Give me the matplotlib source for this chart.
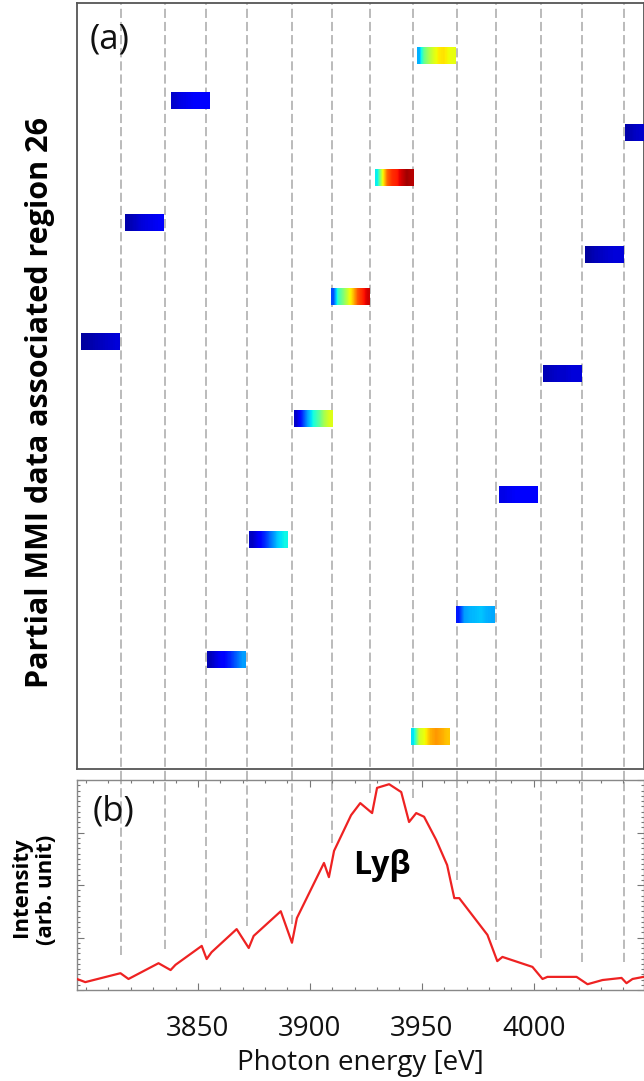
import numpy as np
import matplotlib
matplotlib.use("Agg")
import matplotlib.pyplot as plt
from matplotlib.ticker import MultipleLocator, NullFormatter, FixedLocator

plt.rcParams['font.family'] = ['Open Sans', 'DejaVu Sans']

# ---------------- data ----------------
# Panel (b): spectrum
energy = [3796, 3799.7, 3815.4, 3819.0, 3832.4, 3837.8, 3840.0, 3851.7, 3853.9, 3856.1,
          3867.3, 3872.7, 3874.9, 3887.0, 3892.0, 3894.2, 3906.3, 3908.5, 3910.8, 3918.4,
          3922.5, 3927.8, 3930.0, 3935.4, 3940.8, 3944.3, 3947.5, 3951.0, 3956.4, 3961.3,
          3964.5, 3966.7, 3979.3, 3983.7, 3986.0, 3999.4, 4003.9, 4006.1, 4019.1, 4024.0,
          4030.7, 4039.2, 4041.4, 4044.1, 4049]
intensity = [0.21, 0.15, 0.32, 0.21, 0.51, 0.38, 0.48, 0.84, 0.59, 0.72,
             1.16, 0.80, 1.03, 1.50, 0.90, 1.37, 2.42, 2.15, 2.65, 3.33,
             3.56, 3.37, 3.85, 3.92, 3.77, 3.20, 3.37, 3.30, 2.86, 2.38,
             1.75, 1.75, 1.05, 0.55, 0.63, 0.44, 0.21, 0.25, 0.25, 0.11,
             0.19, 0.23, 0.13, 0.21, 0.25]

# Energy-window boundaries (dashed lines)
boundaries = [3815.8, 3835.5, 3853.4, 3871.8, 3892.0, 3909.9, 3926.9, 3946.2,
              3965.9, 3983.3, 4003.0, 4021.4, 4040.2]

x_ticks = [3850, 3900, 3950, 4000]

# Panel (a): partial MMI strips (start energy, vertical position, jet-scaled intensities)
block_start = [3797.9, 3817.6, 3837.8, 3853.9, 3872.7, 3892.8, 3909.4, 3929.1,
               3947.9, 3945.2, 3965.4, 3984.6, 4003.9, 4022.7, 4040.6]
block_row = [339, 220, 98, 657, 537, 416, 294, 175, 53, 734, 612, 492, 371, 252, 130]
block_values = [
    [0.03, 0.04, 0.05, 0.06, 0.07, 0.08],
    [0.04, 0.06, 0.08, 0.09, 0.10, 0.11],
    [0.07, 0.09, 0.10, 0.11, 0.12, 0.12],
    [0.05, 0.09, 0.12, 0.16, 0.22, 0.28],
    [0.06, 0.11, 0.17, 0.25, 0.33, 0.37],
    [0.07, 0.17, 0.29, 0.38, 0.46, 0.56, 0.62],
    [0.20, 0.42, 0.50, 0.60, 0.70, 0.82, 0.87, 0.93],
    [0.36, 0.62, 0.80, 0.86, 0.88, 0.93, 0.97, 0.95],
    [0.30, 0.48, 0.56, 0.62, 0.66, 0.67, 0.64, 0.63],
    [0.35, 0.60, 0.64, 0.72, 0.75, 0.73, 0.70],
    [0.15, 0.28, 0.30, 0.31, 0.32, 0.30, 0.29],
    [0.09, 0.10, 0.11, 0.11, 0.11, 0.12],
    [0.05, 0.06, 0.07, 0.07, 0.08, 0.08],
    [0.03, 0.05, 0.06, 0.07, 0.08, 0.08],
    [0.04, 0.06, 0.07, 0.07, 0.08, 0.08],
]
block_width = 17.0     # eV
block_height = 17.0    # rows

xlim = (3796, 4049)
row_range = 766

# ---------------- figure ----------------
W, H = 644, 1081
fig = plt.figure(figsize=(W / 100, H / 100), dpi=100)

axa = fig.add_axes([77 / W, 1 - 769 / H, 566.5 / W, 766 / H])
axb = fig.add_axes([77 / W, 1 - 990 / H, 566.5 / W, 210 / H])

dash_color = '#a8a8a8'

# ---- panel (a)
for b in boundaries:
    axa.axvline(b, ymin=-0.015, ymax=1, color=dash_color, lw=1.1,
                dashes=(6, 2.6), clip_on=False, zorder=1)

for s, r, v in zip(block_start, block_row, block_values):
    axa.imshow(np.array(v)[None, :], cmap='jet', vmin=0, vmax=1, aspect='auto',
               interpolation='bilinear',
               extent=(s, s + block_width, r + block_height / 2, r - block_height / 2),
               zorder=3)

axa.set_xlim(*xlim)
axa.set_ylim(row_range, 0)
axa.set_xticks([])
axa.set_yticks([])
for sp in axa.spines.values():
    sp.set_color('#555555')
    sp.set_linewidth(1.3)
axa.text(0.022, 0.975, '(a)', transform=axa.transAxes, fontsize=25,
         ha='left', va='top', color='#111111')
fig.text(40 / W, 1 - 402 / H, 'Partial MMI data associated region 26',
         rotation=90, ha='center', va='center', fontsize=22, fontweight='bold')

# ---- panel (b)
ylo, yhi = 0, 4
for b in boundaries:
    yend = np.interp(b, energy, intensity) + 0.35
    axb.vlines(b, yend, yhi, color=dash_color, lw=1.1, linestyles=(0, (6, 2.6)), zorder=1)

axb.plot(energy, intensity, color='#ee2222', lw=1.6, zorder=3)
axb.set_xlim(*xlim)
axb.set_ylim(ylo, yhi)

axb.xaxis.set_major_locator(FixedLocator(x_ticks))
axb.xaxis.set_minor_locator(MultipleLocator(10))
axb.yaxis.set_major_locator(MultipleLocator(1))
axb.yaxis.set_minor_locator(MultipleLocator(0.1))
axb.yaxis.set_major_formatter(NullFormatter())
axb.tick_params(which='both', direction='in', top=True, right=True, color='#777777',
                width=0.8)
axb.tick_params(which='major', length=5, labelsize=20, pad=18, labelcolor='#111111')
axb.tick_params(which='minor', length=2.5)
for sp in axb.spines.values():
    sp.set_color('#888888')
    sp.set_linewidth(1.0)
axb.set_xlabel('Photon energy [eV]', fontsize=20, color='#111111', labelpad=4)

axb.text(0.027, 0.93, '(b)', transform=axb.transAxes, fontsize=25,
         ha='left', va='top', color='#111111')
axb.text(3932, 2.38, 'Ly\u03b2', fontsize=23, fontweight='bold', ha='center', va='center')

fig.text(22 / W, 1 - 887 / H, 'Intensity', rotation=90, ha='center', va='center',
         fontsize=16, fontweight='bold')
fig.text(47 / W, 1 - 890 / H, '(arb. unit)', rotation=90, ha='center', va='center',
         fontsize=16, fontweight='bold')

fig.savefig('out.png', dpi=100)
